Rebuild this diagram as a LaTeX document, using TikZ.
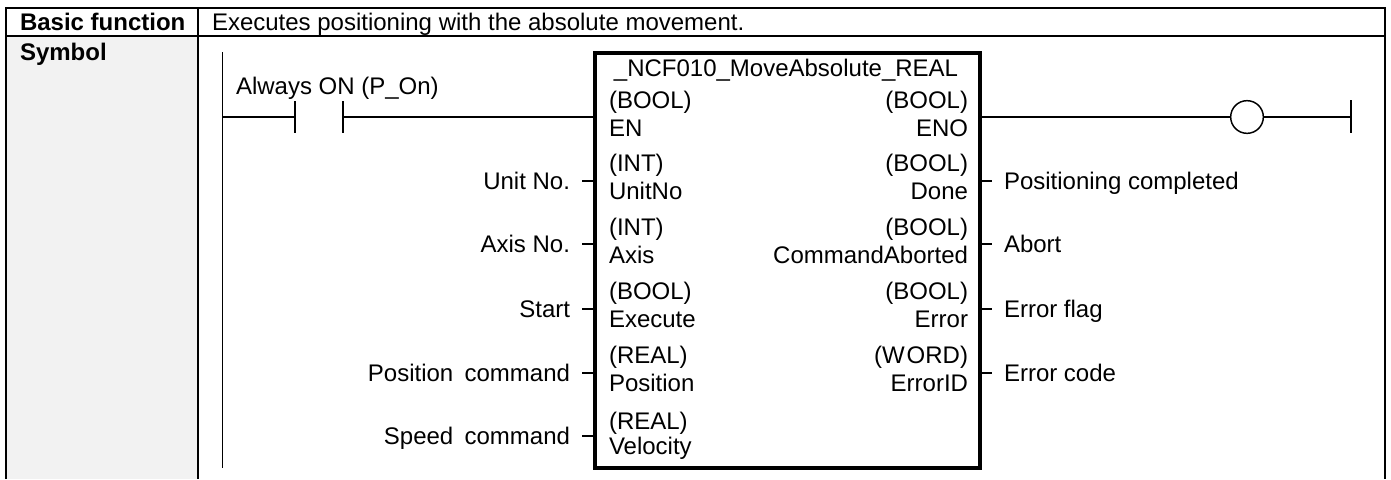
\documentclass[tikz,border=0pt]{standalone}
\usepackage{fontspec}
\setmainfont{Liberation Sans}
\begin{document}
\begin{tikzpicture}[x=0.75pt,y=-0.75pt,
  txt/.style={inner sep=0pt,outer sep=0pt,yshift=-0.75pt,font=\fontsize{18}{21}\selectfont},
  lft/.style={txt,anchor=base west},
  rgt/.style={txt,anchor=base east},
  bld/.style={lft,font=\fontsize{18}{21}\selectfont\bfseries},
  frameline/.style={line width=1.5pt},
  wire/.style={line width=1.1pt},
  blockbox/.style={draw,line width=3pt},
  coilsym/.style={draw,circle,line width=1.1pt,minimum size=24.5pt,inner sep=0pt,fill=white}]
\useasboundingbox (0,0) rectangle (1391,479);
% table
\fill[black!5] (6,36) rectangle (198,479);
\draw[frameline] (6,479) -- (6,8) -- (1385,8) -- (1385,479);
\draw[frameline] (6,36) -- (1385,36);
\draw[frameline] (198,8) -- (198,479);
\node[bld] (h1) at (20,29) {Basic function};
\node[bld] (h2) at (20,59) {Symbol};
\node[lft] (d1) at (212,29) {Executes positioning with the absolute movement.};
% rails
\coordinate (railT) at (222.5,52);
\coordinate (railB) at (222.5,468);
\draw[wire] (railT) -- (railB);
% block
\draw[blockbox] (595,53) rectangle (980,468);
\coordinate (en) at (595,117);
\coordinate (eno) at (980,117);
% contact
\coordinate (railR) at (222.5,117);
\coordinate (c1) at (295,117);
\coordinate (c2) at (343,117);
\draw[wire] (railR) -- (c1);
\draw[wire] (c2) -- (en);
\draw[wire] (295,101) -- (295,133);
\draw[wire] (343,101) -- (343,133);
\node[lft] (aon) at (236,93) {Always ON (P\_On)};
% coil
\node[coilsym] (coil) at (1247,117) {};
\coordinate (rr) at (1351,117);
\draw[wire] (eno) -- (coil);
\draw[wire] (coil) -- (rr);
\draw[wire] (1351,100) -- (1351,133);
% block text
\node[txt,anchor=base] (title) at (786,75) {\_NCF010\_MoveAbsolute\_REAL};
\node[lft] (a1) at (609,107) {(BOOL)};
\node[lft] (a2) at (609,135) {EN};
\node[lft] (b1) at (609,170) {(INT)};
\node[lft] (b2) at (609,198) {UnitNo};
\node[lft] (c1t) at (609,234) {(INT)};
\node[lft] (c2t) at (609,262) {Axis};
\node[lft] (d1t) at (609,298) {(BOOL)};
\node[lft] (d2t) at (609,326) {Execute};
\node[lft] (e1t) at (609,362) {(REAL)};
\node[lft] (e2t) at (609,390) {Position};
\node[lft] (f1t) at (609,428) {(REAL)};
\node[lft] (f2t) at (609,453) {Velocity};
\node[rgt] (p1) at (968,107) {(BOOL)};
\node[rgt] (p2) at (968,135) {ENO};
\node[rgt] (q1) at (968,170) {(BOOL)};
\node[rgt] (q2) at (968,198) {Done};
\node[rgt] (r1) at (968,234) {(BOOL)};
\node[rgt] (r2) at (968,262) {CommandAborted};
\node[rgt] (s1) at (968,298) {(BOOL)};
\node[rgt] (s2) at (968,326) {Error};
\node[rgt] (t1) at (968,362) {(W\kern1.5pt ORD)};
\node[rgt] (t2) at (968,390) {ErrorID};
% inputs
\foreach \nm/\yy/\lab in {i1/181/Unit No.,i2/244/Axis No.,i3/309/Start,i4/373/Position\hspace{0.47em}command,i5/436/Speed\hspace{0.47em}command}{
  \coordinate (\nm a) at (582,\yy);
  \coordinate (\nm b) at (595,\yy);
  \draw[wire] (\nm a) -- (\nm b);
  \node[rgt] (\nm) at (570,\yy+7) {\lab};
}
% outputs
\foreach \nm/\yy/\lab in {o1/181/Positioning completed,o2/244/Abort,o3/309/Error flag,o4/373/Error code}{
  \coordinate (\nm a) at (980,\yy);
  \coordinate (\nm b) at (992,\yy);
  \draw[wire] (\nm a) -- (\nm b);
  \node[lft] (\nm) at (1004,\yy+7) {\lab};
}
\end{tikzpicture}
\end{document}
